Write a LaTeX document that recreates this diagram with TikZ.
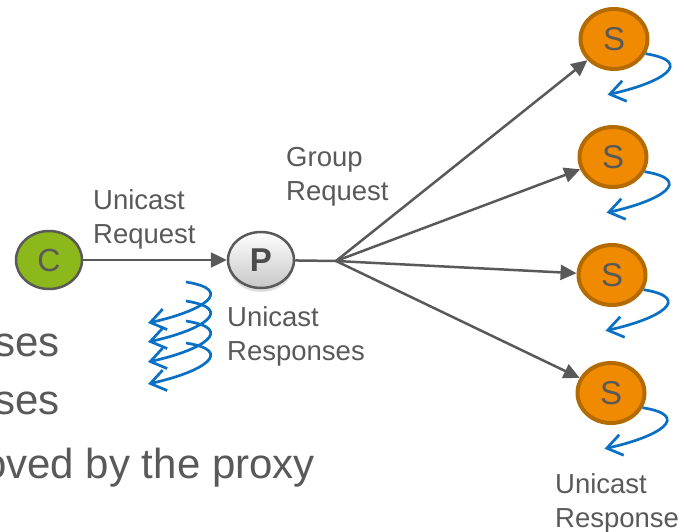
\documentclass[tikz,border=0pt]{standalone}
\usepackage{fontspec}
\setmainfont{Liberation Sans}
\usetikzlibrary{shapes.geometric,arrows.meta,shadows}
\definecolor{gristexte}{HTML}{595959}
\definecolor{vertc}{HTML}{8CB81C}
\definecolor{orange}{HTML}{F08A00}
\definecolor{brun}{HTML}{B36B00}
\definecolor{bleu}{HTML}{0A70C4}
\tikzstyle{client} = [ellipse, draw=gristexte, line width=2.5pt, fill=vertc, minimum width=66pt, minimum height=58pt, inner sep=0pt, text=gristexte, font=\fontsize{32}{32}\selectfont]
\tikzstyle{proxy} = [ellipse, draw=gristexte, line width=2.5pt, top color=white, bottom color=black!22, minimum width=66pt, minimum height=56pt, inner sep=0pt, text=black!70, font=\fontsize{33}{33}\selectfont\bfseries, drop shadow={shadow xshift=0pt, shadow yshift=-4pt, opacity=.25}]
\tikzstyle{serveur} = [ellipse, draw=brun, line width=4pt, fill=orange, minimum width=67pt, minimum height=60pt, inner sep=0pt, text=gristexte, font=\fontsize{33}{33}\selectfont]
\tikzstyle{etiquette} = [anchor=base west, align=left, inner sep=0pt, text=gristexte, font=\fontsize{27.5}{34}\selectfont]
\tikzstyle{grand} = [anchor=base east, inner sep=0pt, text=gristexte, font=\fontsize{42}{50}\selectfont]
\tikzstyle{trait} = [draw=gristexte, line width=2.5pt]
\tikzstyle{fleche} = [trait, -{Triangle[length=16pt,width=15pt]}]
\tikzstyle{boucle} = [draw=bleu, line width=2.7pt, -{Straight Barb[length=15pt,width=21pt]}]

\begin{document}
\begin{tikzpicture}[x=1pt,y=-1pt]

        \useasboundingbox (0,0) rectangle (685,532);
        \clip (0,0) rectangle (685,532);

        \node (t1) [grand] at (60,356) {ses};
        \node (t2) [grand] at (60,414) {ses};
        \node (t3) [grand] at (315,478) {oved by the proxy};

        \node (C) [client] at (49,260) {C};
        \node (P) [proxy] at (261,260) {P};
        \coordinate (hub) at (336,261);

        \node (S1) [serveur] at (614,39) {S};
        \node (S2) [serveur] at (613,157) {S};
        \node (S3) [serveur] at (612,275) {S};
        \node (S4) [serveur] at (611,393) {S};

        \node (ureq) [etiquette] at (93,243) {Unicast\\Request};
        \node (greq) [etiquette] at (286,200) {Group\\Request};
        \node (ursp) [etiquette] at (227,360) {Unicast\\Responses};
        \node (srsp) [etiquette] at (555,527) {Unicast\\Response};

        \draw[fleche] (C) -- (P);
        \draw[trait] (P) -- (hub);
        \foreach \s in {S1,S2,S3,S4}
            \draw[fleche] (hub) -- (\s);

        \foreach \s in {S1,S2,S3,S4}
            \draw[boucle] (\s.-25) .. controls +(50,8) and +(55,-12) .. ++(-38,41);

        \foreach \y in {282,301,321,343}
            \draw[boucle] (186,\y) .. controls +(50,8) and +(55,-12) .. ++(-38,41);

    \end{tikzpicture}
\end{document}
